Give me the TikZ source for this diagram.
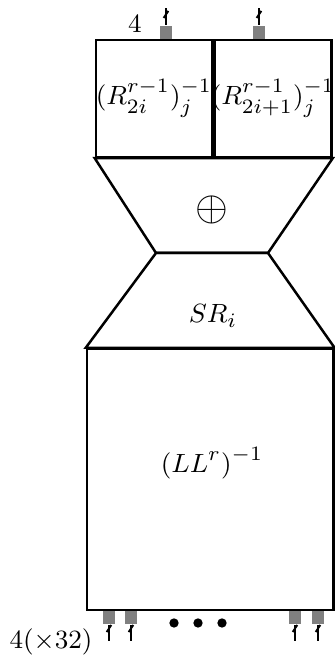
\documentclass[tikz,border=0pt]{standalone}
\usepackage{amsmath}
\usetikzlibrary{positioning,calc,decorations.markings}

\tikzset{
  blk/.style={draw, line width=0.85pt, inner sep=0pt},
  port/.style={fill=gray, minimum size=0.15cm, inner sep=0pt},
  bus/.style={line width=0.7pt, postaction={decorate},
    decoration={markings, mark=at position #1 with {\draw[line width=0.65pt] (-1.2pt,0.8pt) -- (1.2pt,-0.8pt);}}},
  bus/.default=0.7,
}

\begin{document}
\begin{tikzpicture}[line width=0.85pt, font=\fontsize{9.4}{11}\selectfont]
  \useasboundingbox (0,0) rectangle (4.02,7.908);
  % round keys on top
  \node[blk, minimum width=1.392cm, minimum height=1.404cm] (kl) at (1.848,6.726) {};
  \node[blk, minimum width=1.404cm, minimum height=1.404cm, right=0pt of kl] (kr) {};
  \node (kll) at (kl) {$(R^{r-1}_{2i})^{-1}_j$};
  \node (krl) at (kr) {$(R^{r-1}_{2i+1})^{-1}_j$};
  % inverse linear layer
  \node[blk, minimum width=2.956cm, minimum height=3.132cm] (inv) at (2.522,2.154) {};
  \node (invl) at (2.544,2.35) {$(LL^r)^{-1}$};
  % xor and shift rows
  \coordinate (xl) at (1.872,4.872);
  \coordinate (xr) at (3.216,4.872);
  \draw (kl.south west) -- (kr.south east) -- (xr) -- (xl) -- cycle;
  \draw (xl) -- (xr) -- (inv.north east) -- (inv.north west) -- cycle;
  \node (xor) at (2.544,5.388) {\Large$\oplus$};
  \node (sr) at (2.556,4.116) {$SR_i$};
  % ports
  \node[port, anchor=south] (t1) at (1.992,7.428) {};
  \node[port, anchor=south] (t2) at (3.108,7.428) {};
  \coordinate (t1o) at (1.992,7.812);
  \coordinate (t2o) at (3.108,7.812);
  \draw[bus=0.62] (t1) -- (t1o);
  \draw[bus=0.62] (t2) -- (t2o);
  \foreach \i/\x in {1/1.308, 2/1.572, 3/3.54, 4/3.816} {
    \node[port, anchor=north] (b\i) at (\x,0.588) {};
    \coordinate (b\i i) at (\x,0.216);
    \draw[bus=0.78] (b\i i) -- (b\i);
  }
  \foreach \x in {2.088,2.376,2.664}
    \fill (\x,0.432) circle (0.056);
  % widths
  \node (w1) at (1.62,7.62) {$4$};
  \node (w2) at (0.612,0.204) {$4(\times32)$};
\end{tikzpicture}
\end{document}
